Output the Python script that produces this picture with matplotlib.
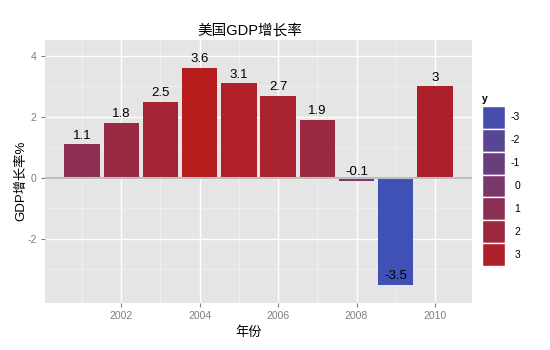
import matplotlib
matplotlib.use("Agg")
import matplotlib.pyplot as plt
import numpy as np

plt.rcParams['font.family'] = ['Liberation Sans', 'Noto Sans CJK SC', 'DejaVu Sans']
plt.rcParams['axes.unicode_minus'] = False

years = [2001, 2002, 2003, 2004, 2005, 2006, 2007, 2008, 2009, 2010]
growth = [1.1, 1.8, 2.5, 3.6, 3.1, 2.7, 1.9, -0.1, -3.5, 3.0]
legend_levels = [-3, -2, -1, 0, 1, 2, 3]
xticks = [2002, 2004, 2006, 2008, 2010]
yticks = [-2, 0, 2, 4]

low_col = "#3F51B5"
high_col = "#B71C1C"


def hex2rgb(h):
    h = h.lstrip("#")
    return np.array([int(h[i:i + 2], 16) / 255.0 for i in (0, 2, 4)])


lo_rgb = hex2rgb(low_col)
hi_rgb = hex2rgb(high_col)
vmin, vmax = min(growth), max(growth)


def fill_for(v):
    t = (v - vmin) / (vmax - vmin)
    return lo_rgb + t * (hi_rgb - lo_rgb)


fig = plt.figure(figsize=(5.5, 3.5), dpi=100)
ax = fig.add_axes([45 / 550, 47 / 350, 427 / 550, 263 / 350])
ax.set_facecolor("#E5E5E5")

ax.bar(years, growth, width=0.9, color=[fill_for(v) for v in growth], zorder=2)
ax.axhline(0, color="#BEBEBE", lw=1.5, zorder=3)

for x, v in zip(years, growth):
    ax.annotate("%g" % v, (x, v), xytext=(0, 2), textcoords="offset points",
                ha="center", va="bottom", fontsize=9.5, color="black", zorder=4)

ax.set_xlim(2000.055, 2010.945)
ax.set_ylim(-4.1, 4.52)
ax.set_xticks(xticks)
ax.set_yticks(yticks)
ax.set_xticks([2001, 2003, 2005, 2007, 2009], minor=True)
ax.set_yticks([-3, -1, 1, 3], minor=True)
ax.grid(which="major", color="white", lw=1.0, zorder=0)
ax.grid(which="minor", color="#F2F2F2", lw=0.5, zorder=0)
ax.set_axisbelow(True)
for s in ax.spines.values():
    s.set_visible(False)
ax.tick_params(which="major", length=3, width=0.8, color="#7F7F7F",
               labelcolor="#7F7F7F", labelsize=7.5, pad=3)
ax.tick_params(which="minor", length=0)

fig.text(250 / 550, (350 - 30) / 350, "美国GDP增长率", fontsize=10.5,
         ha="center", va="center")
fig.text(249 / 550, (350 - 333) / 350, "年份", fontsize=9.5,
         ha="center", va="center")
fig.text(21 / 550, (350 - 181) / 350, "GDP增长率%", fontsize=9.5,
         ha="center", va="center", rotation=90)

# legend: one swatch per level, -3 at the top
lax = fig.add_axes([482 / 550, (350 - 266) / 350, 23 / 550, 160 / 350])
lax.set_xlim(0, 1)
lax.set_ylim(3.5, -3.5)
lax.axis("off")
for lv in legend_levels:
    lax.barh(lv, 1, left=0, height=1.0, color=fill_for(lv),
             edgecolor="white", lw=1.0)
    lax.text(1.65, lv, "%d" % lv, ha="right", va="center",
             fontsize=7.5, color="black")
fig.text(482 / 550, (350 - 99) / 350, "y", fontsize=7.5, fontweight="bold",
         ha="left", va="center")

plt.savefig("out.png", dpi=100)
